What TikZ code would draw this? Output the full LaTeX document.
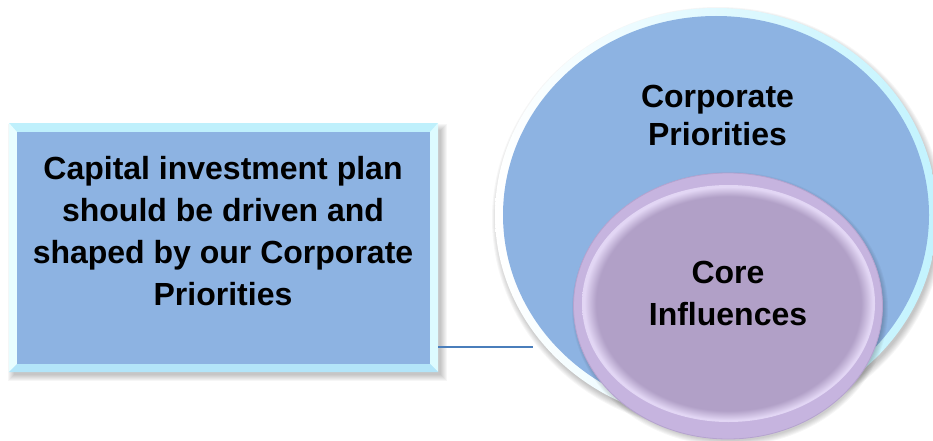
\documentclass[tikz,border=0pt]{standalone}
\usepackage{fontspec}
\setmainfont{Liberation Sans}
\usetikzlibrary{calc}

\definecolor{panelblue}{HTML}{8DB3E2}
\definecolor{bevtop}{HTML}{BFF0FC}
\definecolor{bevleft}{HTML}{E8FDFF}
\definecolor{bevright}{HTML}{DDFBFF}
\definecolor{bevbottom}{HTML}{B3E5F9}
\definecolor{rimcyan}{HTML}{C2F3FE}
\definecolor{linkblue}{HTML}{4A7EBB}
\definecolor{lilac}{HTML}{B1A0C7}
\definecolor{lilacring}{HTML}{C6B4DF}
\definecolor{lilacedge}{HTML}{B5A3CF}
\definecolor{lilacglow}{HTML}{E2D6F4}

% soft light rim round the inner disc
\pgfdeclareradialshading{lilacdisk}{\pgfpoint{0bp}{0bp}}{%
  color(0bp)=(lilac); color(22.6bp)=(lilac); color(24.6bp)=(lilacglow);
  color(25bp)=(lilacglow); color(50bp)=(lilacglow)}

\pgfdeclarelayer{back}
\pgfsetlayers{back,main}

\begin{document}
\begin{tikzpicture}[x=1pt,y=-1pt,
  txt/.style={font=\bfseries\fontsize{32}{42}\selectfont, align=center,
              inner sep=0pt, text=black, anchor=base},
  softshade/.style={black, opacity=0.035}]
\useasboundingbox (0,0) rectangle (933,441);

% ---------- bevelled statement panel ----------
\node[fill=bevtop, minimum width=429pt, minimum height=249pt, inner sep=0pt]
  (box) at (223.5,247.5) {};
\coordinate (inNW) at ($(box.north west)+(8,9)$);
\coordinate (inNE) at ($(box.north east)+(-8,9)$);
\coordinate (inSW) at ($(box.south west)+(8,-8)$);
\coordinate (inSE) at ($(box.south east)+(-8,-8)$);
\fill[bevleft]   (box.north west) -- (inNW) -- (inSW) -- (box.south west) -- cycle;
\fill[bevright]  (box.north east) -- (inNE) -- (inSE) -- (box.south east) -- cycle;
\fill[bevbottom] (box.south west) -- (inSW) -- (inSE) -- (box.south east) -- cycle;
\fill[panelblue] (inNW) rectangle (inSE);

\begin{pgfonlayer}{back}
  \foreach \s in {1,...,7}
    \fill[softshade] ($(box.north west)+(6-\s,8-\s)$) rectangle ($(box.south east)+(2+\s,2+\s)$);
\end{pgfonlayer}

% connector leaving the panel
\coordinate (linkend) at (533,347);
\draw[linkblue, line width=1.6pt] (box.east |- linkend) -- (linkend);

% ---------- outer ellipse: corporate priorities ----------
\foreach \s in {1,...,7}
  \fill[softshade] (718,219) ellipse [x radius={219pt+\s pt}, y radius={205pt+\s pt}];
\shade[left color=white, middle color=rimcyan, right color=rimcyan]
  (716,215) ellipse [x radius=221pt, y radius=207pt];
\fill[panelblue] (716,215) ellipse [x radius=213pt, y radius=199pt];

% ---------- inner disc: core influences ----------
\foreach \s in {1,...,6}
  \fill[softshade] (730,309) ellipse [x radius={152pt+\s pt}, y radius={131pt+\s pt}];
\fill[lilacring, draw=lilacedge, line width=0.8pt]
  (728,306) ellipse [x radius=154.5pt, y radius=133pt];
\shade[shading=lilacdisk]
  (728.5,303.5) ellipse [x radius=146.5pt, y radius=118.5pt];

% ---------- texts (anchored on the baseline of the last line) ----------
\node[txt] (boxtext) at (223,305)
  {Capital investment plan\\should be driven and\\shaped by our Corporate\\Priorities};
\node[txt, font=\bfseries\fontsize{32}{37}\selectfont] (priotext) at (717.5,145)
  {Corporate\\Priorities};
\node[txt] (coretext) at (728,325) {Core\\Influences};
\end{tikzpicture}
\end{document}
